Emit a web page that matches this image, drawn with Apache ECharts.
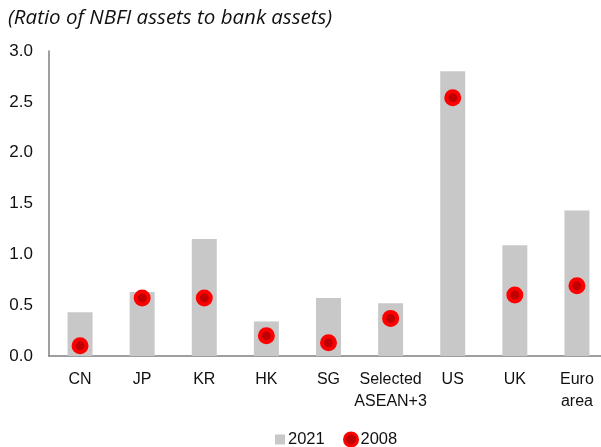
<!DOCTYPE html>
<html>
<head>
<meta charset="utf-8">
<script src="https://cdn.jsdelivr.net/npm/echarts@6/dist/echarts.min.js"></script>
<style>
  html, body { margin: 0; padding: 0; background: #fff; }
  #chart { width: 601px; height: 447px; }
</style>
</head>
<body>
<div id="chart"></div>
<script>
// NBFI assets relative to bank assets, by economy
const categories = ['CN', 'JP', 'KR', 'HK', 'SG', 'Selected\nASEAN+3', 'US', 'UK', 'Euro\narea'];
const values2021 = [0.43, 0.63, 1.15, 0.34, 0.57, 0.52, 2.80, 1.09, 1.43];
const values2008 = [0.10, 0.57, 0.57, 0.20, 0.13, 0.37, 2.54, 0.60, 0.69];
const yTicks = { min: 0, max: 3, interval: 0.5 };

const chart = echarts.init(document.getElementById('chart'));
const font = 'Liberation Sans, Arial, sans-serif';
const barColor = '#c8c8c9';
const legendText = { fontFamily: font, fontSize: 16.5, color: '#111', padding: [0, 0, 0, -2] };

chart.setOption({
  animation: false,
  title: {
    text: '(Ratio of NBFI assets to bank assets)',
    left: 3,
    top: 3,
    textStyle: {
      fontFamily: 'Open Sans, Noto Sans, sans-serif',
      fontStyle: 'italic',
      fontWeight: 'normal',
      fontSize: 20.5,
      color: '#111'
    }
  },
  legend: [
    {
      left: 270,
      top: 426,
      itemWidth: 10,
      itemHeight: 10,
      textStyle: legendText,
      data: [{ name: '2021', icon: 'rect', itemStyle: { color: barColor } }]
    },
    {
      left: 338,
      top: 426,
      itemWidth: 13,
      itemHeight: 13,
      textStyle: legendText,
      data: [{ name: '2008', icon: 'circle', itemStyle: { color: '#c00000', borderColor: '#ff0000', borderWidth: 3 } }]
    }
  ],
  grid: { left: 49, width: 559, top: 51, bottom: 91, outerBoundsMode: 'none', containLabel: false },
  xAxis: {
    type: 'category',
    data: categories,
    axisLine: { lineStyle: { color: '#7f7f7f', width: 1.5 } },
    axisTick: { show: false },
    axisLabel: {
      fontFamily: font,
      fontSize: 16,
      color: '#111',
      margin: 13,
      lineHeight: 22,
      interval: 0
    }
  },
  yAxis: {
    type: 'value',
    min: yTicks.min,
    max: yTicks.max,
    interval: yTicks.interval,
    splitLine: { show: false },
    axisLine: { show: true, lineStyle: { color: '#7f7f7f', width: 1.5 } },
    axisTick: { show: false },
    axisLabel: {
      fontFamily: font,
      fontSize: 17,
      color: '#111',
      margin: 16,
      formatter: v => v.toFixed(1)
    }
  },
  series: [
    {
      name: '2021',
      type: 'bar',
      data: values2021,
      barWidth: 25,
      itemStyle: { color: barColor },
      z: 1
    },
    {
      name: '2008',
      type: 'scatter',
      data: values2008,
      symbol: 'circle',
      symbolSize: 13,
      itemStyle: { color: '#c00000', borderColor: '#ff0000', borderWidth: 4, opacity: 1 },
      z: 3
    }
  ]
});
</script>
</body>
</html>
